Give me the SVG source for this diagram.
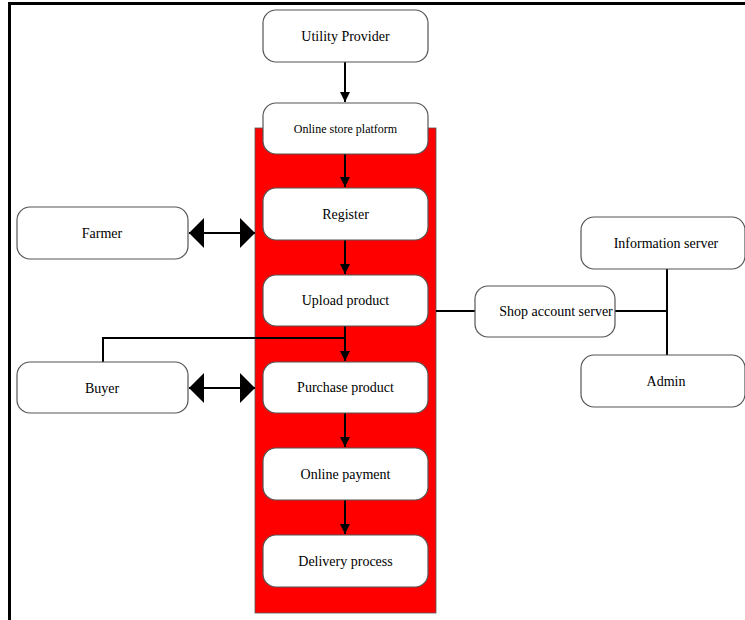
<svg xmlns="http://www.w3.org/2000/svg" width="745" height="620" viewBox="0 0 745 620">
<defs>
<style>
.box{fill:#fff;stroke:#555;stroke-width:1.2}
.t{font-family:"Liberation Serif","Times New Roman",serif;font-size:14px;fill:#000;text-anchor:middle;dominant-baseline:central}
.ts{font-size:12px}
.ln{stroke:#000;stroke-width:2;fill:none}
</style>
<marker id="ah" viewBox="0 0 10 10" refX="10" refY="5" markerWidth="10" markerHeight="10" markerUnits="userSpaceOnUse" orient="auto">
<path d="M0,0 L10,5 L0,10 Z" fill="#000"/>
</marker>
<marker id="big" viewBox="0 0 15 30" refX="15" refY="15" markerWidth="15" markerHeight="30" markerUnits="userSpaceOnUse" orient="auto-start-reverse">
<path d="M0,0 L15,15 L0,30 Z" fill="#000"/>
</marker>
</defs>
<rect x="0" y="0" width="745" height="620" fill="#fff"/>
<path d="M9.5,620 V3.5 H745" stroke="#000" stroke-width="3" fill="none"/>
<rect id="platform-bg" x="255" y="128" width="181" height="485" fill="#ff0000" stroke="#555" stroke-width="0.8"/>
<g id="connectors">
<path class="ln" d="M345,62 V102" marker-end="url(#ah)"/>
<path class="ln" d="M345,154 V187" marker-end="url(#ah)"/>
<path class="ln" d="M345,240 V274" marker-end="url(#ah)"/>
<path class="ln" d="M345,326 V361" marker-end="url(#ah)"/>
<path class="ln" d="M103,362 V338 H345"/>
<path class="ln" d="M345,413 V447" marker-end="url(#ah)"/>
<path class="ln" d="M345,500 V534" marker-end="url(#ah)"/>
<path class="ln" d="M189,233 H255" marker-start="url(#big)" marker-end="url(#big)"/>
<path class="ln" d="M189,388 H255" marker-start="url(#big)" marker-end="url(#big)"/>
<path class="ln" d="M436,311 H475"/>
<path class="ln" d="M615,311 H667"/>
<path class="ln" d="M667,269 V355"/>
</g>
<g id="utility-provider"><rect class="box" x="263" y="10" width="165" height="52" rx="13"/><text class="t" x="345.5" y="36">Utility Provider</text></g>
<g id="online-store-platform"><rect class="box" x="263" y="103" width="165" height="51" rx="13"/><text class="t ts" x="345.5" y="129">Online store platform</text></g>
<g id="register"><rect class="box" x="263" y="188" width="165" height="52" rx="13"/><text class="t" x="345.5" y="214">Register</text></g>
<g id="upload-product"><rect class="box" x="263" y="275" width="165" height="51" rx="13"/><text class="t" x="345.5" y="300">Upload product</text></g>
<g id="purchase-product"><rect class="box" x="263" y="362" width="165" height="51" rx="13"/><text class="t" x="345.5" y="387">Purchase product</text></g>
<g id="online-payment"><rect class="box" x="263" y="448" width="165" height="52" rx="13"/><text class="t" x="345.5" y="474">Online payment</text></g>
<g id="delivery-process"><rect class="box" x="263" y="535" width="165" height="52" rx="13"/><text class="t" x="345.5" y="561">Delivery process</text></g>
<g id="farmer"><rect class="box" x="17" y="207" width="171" height="52" rx="13"/><text class="t" x="102" y="233">Farmer</text></g>
<g id="buyer"><rect class="box" x="17" y="362" width="171" height="51" rx="13"/><text class="t" x="102" y="388">Buyer</text></g>
<g id="shop-account-server"><rect class="box" x="475" y="286" width="140" height="51" rx="13"/><text class="t" x="556" y="311">Shop account server</text></g>
<g id="information-server"><rect class="box" x="581" y="217" width="164" height="52" rx="13"/><text class="t" x="666" y="243">Information server</text></g>
<g id="admin"><rect class="box" x="581" y="355" width="164" height="52" rx="13"/><text class="t" x="666" y="381">Admin</text></g>
</svg>
